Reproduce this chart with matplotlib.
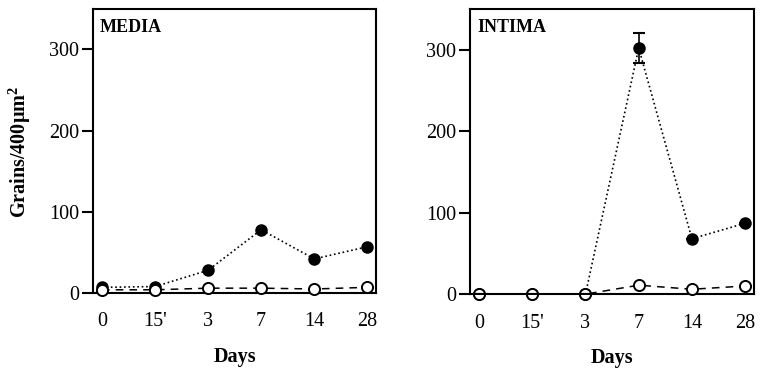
import numpy as np
import matplotlib
matplotlib.use("Agg")
import matplotlib.pyplot as plt

plt.rcParams['font.family'] = ['Liberation Serif', 'DejaVu Serif']
plt.rcParams['mathtext.fontset'] = 'custom'
plt.rcParams['mathtext.rm'] = 'Liberation Serif'
plt.rcParams['mathtext.bf'] = 'Liberation Serif:bold'

days = ["0", "15'", "3", "7", "14", "28"]

media_filled = [7, 8, 28, 78, 42, 57]
media_open = [4, 4, 6, 6, 5, 7]

intima_filled = [0, 0, 0, 302, 68, 87]
intima_filled_err = [0, 0, 0, 19, 0, 0]
intima_open = [0, 0, 0, 11, 6, 10]

fig = plt.figure(figsize=(7.68, 3.70), dpi=100)
ax1 = fig.add_axes([0.121, 0.208, 0.369, 0.768])
ax2 = fig.add_axes([0.612, 0.205, 0.370, 0.771])

def draw_panel(ax, filled, opened, title, err=None):
    x = np.arange(len(days))
    ax.plot(x, opened, linestyle=(0, (5, 4)), color="black", lw=1.1,
            marker="o", markersize=8, markerfacecolor="white",
            markeredgecolor="black", markeredgewidth=1.4, clip_on=False, zorder=3)
    ax.plot(x, filled, linestyle=":", color="black", lw=1.2,
            marker="o", markersize=8, markerfacecolor="black",
            markeredgecolor="black", clip_on=False, zorder=2)
    if err is not None:
        ax.errorbar(x, filled, yerr=err, fmt="none", ecolor="black",
                    elinewidth=1.2, capsize=4, capthick=1.5, zorder=4)
    ax.set_xlim(-0.17, 5.17)
    ax.set_ylim(0, 350)
    ax.set_yticks([0, 100, 200, 300])
    ax.set_xticks(x)
    ax.set_xticklabels(days)
    ax.tick_params(axis="x", length=0, pad=14, labelsize=14.5)
    ax.tick_params(axis="y", length=8, width=1.5, direction="out", pad=2, labelsize=14.5)
    for s in ax.spines.values():
        s.set_linewidth(1.5)
    ax.set_xlabel("Days", fontweight="bold", fontsize=14.5, labelpad=11)
    ax.text(0.025, 0.965, title, transform=ax.transAxes, fontweight="bold",
            fontsize=13, va="top", ha="left")

draw_panel(ax1, media_filled, media_open, "MEDIA")
draw_panel(ax2, intima_filled, intima_open, "INTIMA", err=intima_filled_err)

fig.text(0.026, 0.589, r"Grains/400µm$^{\mathbf{2}}$", rotation=90, fontweight="bold",
         fontsize=14.5, ha="center", va="center")

fig.savefig("out.png", dpi=100)
